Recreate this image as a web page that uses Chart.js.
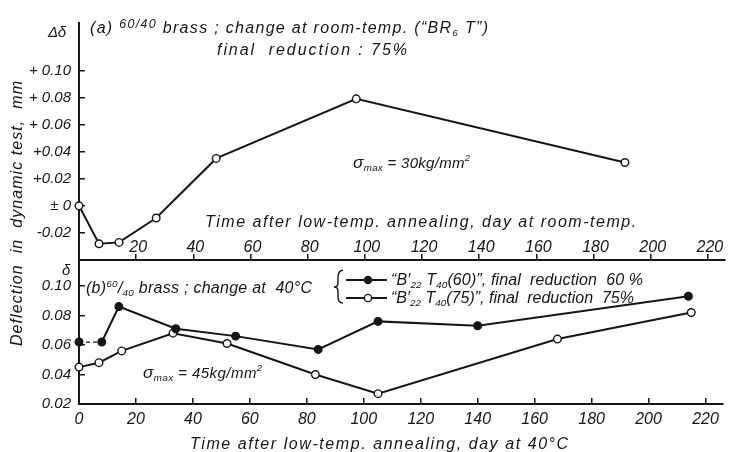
<!DOCTYPE html>
<html lang="en">
<head>
  <meta charset="UTF-8">
  <title>Deflection in dynamic test</title>
  <script src="https://cdn.jsdelivr.net/npm/chart.js"></script>
  <style>
    body { margin: 0; background: #fff; }
    #wrap { position: relative; width: 731px; height: 452px; }
    #wrap canvas { position: absolute; left: 0; top: 0; }
  </style>
</head>
<body>
<div id="wrap">
  <canvas id="chartA" width="731" height="452"></canvas>
  <canvas id="chartB" width="731" height="452"></canvas>
</div>

<script>
  // (a) change at room-temp, final reduction 75 %
  const daysA = [0, 7, 14, 27, 48, 97, 191];
  const deltaA = [0, -0.028, -0.027, -0.009, 0.035, 0.079, 0.032];

  // (b) change at 40 C
  const days60 = [0, 8, 14, 34, 55, 84, 105, 140, 214];
  const defl60 = [0.062, 0.062, 0.086, 0.071, 0.066, 0.057, 0.076, 0.073, 0.093];
  const days75 = [0, 7, 15, 33, 52, 83, 105, 168, 215];
  const defl75 = [0.045, 0.048, 0.056, 0.068, 0.061, 0.040, 0.027, 0.064, 0.082];

  // axes
  const xTicks = [0, 20, 40, 60, 80, 100, 120, 140, 160, 180, 200, 220];
  const yTicksA = [-0.02, 0, 0.02, 0.04, 0.06, 0.08, 0.10];
  const yLabelsA = ['-0.02', '± 0', '+0.02', '+0.04', '+ 0.06', '+ 0.08', '+ 0.10'];
  const yTicksB = [0.02, 0.04, 0.06, 0.08, 0.10];
  const yLabelsB = ['0.02', '0.04', '0.06', '0.08', '0.10'];

  const FONT = '"Liberation Sans", "DejaVu Sans", sans-serif';
  const INK = '#161616';

  // draw text made of runs [text, scale, dy], stretched between x0 and x1
  function drawRuns(ctx, runs, x0, x1, yBase, size) {
    ctx.save();
    ctx.fillStyle = INK;
    ctx.textAlign = 'left';
    ctx.textBaseline = 'alphabetic';
    let w = 0, n = 0;
    for (const [t, sc] of runs) {
      ctx.font = `italic ${size * sc}px ${FONT}`;
      w += ctx.measureText(t).width;
      n += t.length;
    }
    const sp = x1 ? Math.max(-0.5, Math.min(4, (x1 - x0 - w) / Math.max(n - 1, 1))) : 0;
    let x = x0;
    for (const [t, sc, dy] of runs) {
      ctx.font = `italic ${size * sc}px ${FONT}`;
      for (const ch of t) {
        ctx.fillText(ch, x, yBase + (dy || 0));
        x += ctx.measureText(ch).width + sp;
      }
    }
    ctx.restore();
  }

  function pts(xs, ys) {
    return xs.map((d, i) => ({ x: d, y: ys[i] }));
  }

  function xScale(extra) {
    return Object.assign({
      type: 'linear',
      min: 0,
      max: 226,
      afterBuildTicks: s => { s.ticks = xTicks.map(v => ({ value: v })); },
      grid: { drawOnChartArea: false, drawTicks: true, tickLength: -6, color: INK, lineWidth: 1.5 },
      border: { display: true, color: INK, width: 2 }
    }, extra);
  }

  function yScale(min, max, ticks, labels) {
    return {
      type: 'linear',
      min: min,
      max: max,
      afterBuildTicks: s => { s.ticks = ticks.map(v => ({ value: v })); },
      afterFit: s => { s.width = 79; },
      ticks: {
        padding: 14,
        color: INK,
        font: { family: FONT, size: 15, style: 'italic' },
        callback: (v, i) => labels[i]
      },
      grid: { drawOnChartArea: false, drawTicks: true, tickLength: -6, color: INK, lineWidth: 1.5 },
      border: { display: true, color: INK, width: 2 }
    };
  }

  const lineStyle = {
    borderColor: INK,
    borderWidth: 2,
    pointRadius: 3.8,
    pointBorderWidth: 1.4,
    pointBorderColor: INK,
    tension: 0,
    clip: false
  };

  const panelA = {
    id: 'panelA',
    afterDraw(chart) {
      const ctx = chart.ctx;
      const xs = chart.scales.x;
      // x tick labels sit above the axis line
      ctx.save();
      ctx.fillStyle = INK;
      ctx.font = `italic 16px ${FONT}`;
      ctx.textAlign = 'center';
      xTicks.slice(1).forEach(v => ctx.fillText(String(v), xs.getPixelForValue(v) + 2, 252));
      ctx.restore();

      drawRuns(ctx, [['Time after low-temp. annealing, day at room-temp.', 1, 0]], 205, 636, 227, 16);
      drawRuns(ctx, [['(a) ', 1, 0], ['60/40', 0.78, -5], [' brass ; change at room-temp. (“BR', 1, 0],
        ['6', 0.62, 3], [' T”)', 1, 0]], 90, 488, 33, 16);
      drawRuns(ctx, [['final  reduction : 75%', 1, 0]], 217, 407, 55, 16);
      drawRuns(ctx, [['σ', 1.15, 0], ['max', 0.65, 3], [' = 30kg/mm', 1, 0], ['2', 0.62, -7]], 353, 470, 168, 15);
      drawRuns(ctx, [['Δδ', 1, 0]], 48, 66, 37, 15);

      // shared y title
      ctx.save();
      ctx.translate(22, 214);
      ctx.rotate(-Math.PI / 2);
      drawRuns(ctx, [['Deflection  in  dynamic test,  mm', 1, 0]], -132, 133, 0, 16);
      ctx.restore();
    }
  };

  const panelB = {
    id: 'panelB',
    afterDraw(chart) {
      const ctx = chart.ctx;
      drawRuns(ctx, [['δ', 1, 0]], 62, 0, 275, 15);
      drawRuns(ctx, [['(b)', 1, 0], ['60', 0.62, -6], ['/', 1, 0], ['40', 0.62, 3],
        [' brass ; change at  40°C', 1, 0]], 86, 312, 293, 16);
      drawRuns(ctx, [['σ', 1.15, 0], ['max', 0.65, 3], [' = 45kg/mm', 1, 0], ['2', 0.62, -7]], 143, 262, 378, 15);
      drawRuns(ctx, [['Time after low-temp. annealing, day at 40°C', 1, 0]], 190, 568, 449, 16);

      // legend with brace
      ctx.save();
      ctx.strokeStyle = INK;
      ctx.lineWidth = 1.4;
      ctx.beginPath();
      ctx.moveTo(343, 270);
      ctx.quadraticCurveTo(338, 271, 338, 277);
      ctx.lineTo(338, 283);
      ctx.quadraticCurveTo(338, 287, 334, 287);
      ctx.quadraticCurveTo(338, 287, 338, 291);
      ctx.lineTo(338, 297);
      ctx.quadraticCurveTo(338, 303, 343, 303);
      ctx.stroke();

      [[280, INK], [298, '#fff']].forEach(([y, fill]) => {
        ctx.lineWidth = 2;
        ctx.beginPath();
        ctx.moveTo(346, y);
        ctx.lineTo(387, y);
        ctx.stroke();
        ctx.beginPath();
        ctx.arc(368, y, 3.6, 0, Math.PI * 2);
        ctx.fillStyle = fill;
        ctx.fill();
        ctx.lineWidth = 1.4;
        ctx.stroke();
      });
      ctx.restore();

      drawRuns(ctx, [['“B′', 1, 0], ['22', 0.62, 3], [' T', 1, 0], ['40', 0.62, 3],
        ['(60)”, final  reduction  60 %', 1, 0]], 391, 643, 285, 16);
      drawRuns(ctx, [['“B′', 1, 0], ['22', 0.62, 3], [' T', 1, 0], ['40', 0.62, 3],
        ['(75)”, final  reduction  75%', 1, 0]], 391, 634, 303, 16);
    }
  };

  const common = {
    responsive: false,
    animation: false,
    events: [],
    plugins: { legend: { display: false }, tooltip: { enabled: false } }
  };

  new Chart(document.getElementById('chartA'), {
    type: 'line',
    data: {
      datasets: [Object.assign({ data: pts(daysA, deltaA), pointBackgroundColor: '#fff' }, lineStyle)]
    },
    options: Object.assign({}, common, {
      layout: { padding: { top: 13, right: 6, bottom: 192, left: 0 } },
      scales: {
        x: xScale({ ticks: { display: false }, afterFit: s => { s.height = 0; } }),
        y: yScale(-0.04, 0.135, yTicksA, yLabelsA)
      }
    }),
    plugins: [panelA]
  });

  new Chart(document.getElementById('chartB'), {
    type: 'line',
    data: {
      datasets: [
        Object.assign({}, lineStyle, {
          data: pts(days60, defl60),
          pointBackgroundColor: INK,
          segment: {
            borderDash: c => c.p0DataIndex === 0 ? [4, 3] : undefined,
            borderWidth: c => c.p0DataIndex === 0 ? 1.3 : undefined
          }
        }),
        Object.assign({}, lineStyle, {
          data: pts(days75, defl75),
          pointBackgroundColor: '#fff'
        })
      ]
    },
    options: Object.assign({}, common, {
      layout: { padding: { top: 260, right: 6, bottom: 0, left: 0 } },
      scales: {
        x: xScale({
          afterFit: s => { s.height = 48; },
          ticks: {
            padding: 12,
            color: INK,
            font: { family: FONT, size: 16, style: 'italic' },
            maxRotation: 0,
            callback: (v, i) => String(xTicks[i])
          }
        }),
        y: yScale(0.02, 0.1176, yTicksB, yLabelsB)
      }
    }),
    plugins: [panelB]
  });
</script>
</body>
</html>
